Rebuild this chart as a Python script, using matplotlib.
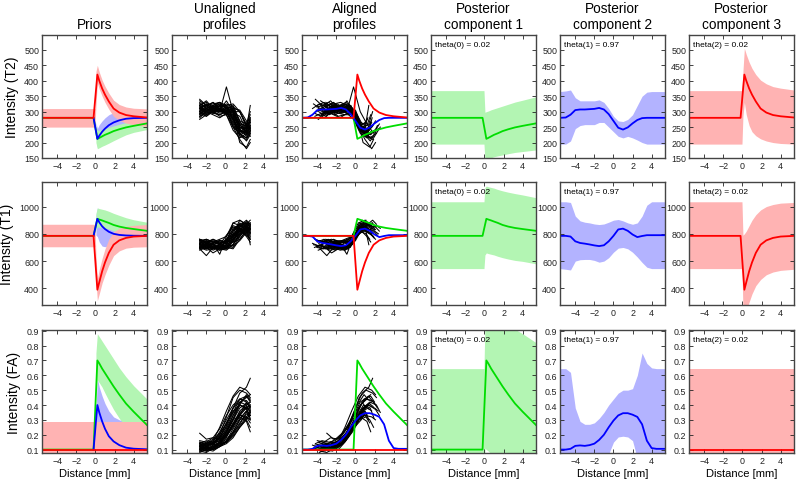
import matplotlib
matplotlib.use('Agg')
import matplotlib.pyplot as plt

plt.rcParams['font.family'] = ['Liberation Sans', 'DejaVu Sans']

RED = '#ff0000'
GREEN = '#00dd00'
BLUE = '#0000ff'
RED_F = '#ffb3b3'
GREEN_F = '#b3f5b3'
BLUE_F = '#b3b3ff'

titles = ['Priors', 'Unaligned\nprofiles', 'Aligned\nprofiles',
          'Posterior\ncomponent 1', 'Posterior\ncomponent 2', 'Posterior\ncomponent 3']
ylabels = ['Intensity (T2)', 'Intensity (T1)', 'Intensity (FA)']
thetas = ['theta(0) = 0.02', 'theta(1) = 0.97', 'theta(2) = 0.02']
ylims = [(150, 548), (278, 1180), (0.077, 0.905)]
yticks = [[150, 200, 250, 300, 350, 400, 450, 500],
          [400, 600, 800, 1000],
          [0.1, 0.2, 0.3, 0.4, 0.5, 0.6, 0.7, 0.8, 0.9]]
xticks = [-4, -2, 0, 2, 4]

# x grids of the component curves
x_line = [-5.6, -0.2, 0.2, 0.4, 0.7, 1.0, 1.4, 1.9, 2.5, 3.2, 4.0, 5.4]
x_band = [-5.6, -0.05, 0.05, 0.2, 0.4, 0.7, 1.0, 1.4, 1.9, 2.5, 3.2, 4.0, 5.4]
x_prior = [-0.2, 0.2, 0.4, 0.7, 1.0, 1.4, 1.9, 2.5, 3.2, 4.0, 5.4]
x_prior_band = [0.05, 0.2, 0.4, 0.7, 1.0, 1.4, 1.9, 2.5, 3.2, 4.0, 5.4]
x_c2 = [-5.6, -5.0, -4.5, -4.0, -3.5, -3.0, -2.5, -2.0, -1.5, -1.0, -0.5, 0.0,
        0.5, 1.0, 1.5, 2.0, 2.5, 3.0, 3.5, 4.0, 4.5, 5.4]

# component 1 (green) mean, same in prior and posterior
c1_T2 = [280, 280, 212, 215, 220, 225, 230, 237, 243, 249, 254, 262]
c1_T1 = [785, 785, 910, 905, 898, 890, 880, 865, 853, 843, 835, 822]
c1_FA = [0.1, 0.1, 0.70, 0.68, 0.645, 0.615, 0.575, 0.525, 0.47, 0.41, 0.355, 0.265]
# component 3 (red) mean
c3_T2 = [280, 280, 420, 400, 375, 355, 333, 310, 297, 289, 285, 281]
c3_T1 = [785, 785, 390, 445, 525, 590, 660, 720, 752, 770, 780, 785]
c3_FA = [0.1, 0.1, 0.1, 0.1, 0.1, 0.1, 0.1, 0.1, 0.1, 0.1, 0.1, 0.1]
# prior mean of component 2 (blue)
p2_T2 = [280, 212, 222, 235, 245, 256, 265, 272, 277, 279, 280]
p2_T1 = [785, 910, 885, 855, 835, 815, 800, 792, 788, 786, 785]
p2_FA = [0.1, 0.40, 0.35, 0.29, 0.24, 0.19, 0.155, 0.13, 0.113, 0.106, 0.102]

# prior bands
pr_red_T2_lo = [250, 250, 320, 393, 373, 350, 330, 308, 285, 272, 263, 258, 252]
pr_red_T2_hi = [310, 310, 430, 450, 428, 402, 382, 360, 337, 323, 315, 311, 309]
pr_red_T1_lo = [705, 705, 460, 310, 360, 440, 500, 570, 640, 675, 695, 702, 705]
pr_red_T1_hi = [870, 870, 640, 470, 540, 620, 690, 760, 815, 840, 855, 862, 868]
pr_red_FA_lo = [-0.085] * 13
pr_red_FA_hi = [0.285] * 13
pr_blue_T2_lo = [225, 185, 192, 203, 213, 226, 240, 252, 262, 267, 270]
pr_blue_T2_hi = [265, 245, 258, 270, 280, 290, 297, 300, 300, 297, 294]
pr_blue_T1_lo = [790, 780, 740, 710, 705, 715, 735, 755, 768, 775, 780]
pr_blue_T1_hi = [930, 990, 970, 950, 930, 905, 875, 845, 825, 812, 800]
pr_blue_FA_lo = [0.08, 0.22, 0.18, 0.12, 0.07, 0.03, 0.0, -0.02, -0.05, -0.07, -0.085]
pr_blue_FA_hi = [0.35, 0.58, 0.52, 0.46, 0.41, 0.36, 0.32, 0.30, 0.29, 0.285, 0.285]
pr_green_T2_lo = [200, 180, 183, 188, 192, 198, 206, 215, 225, 233, 242]
pr_green_T2_hi = [250, 240, 240, 242, 245, 249, 254, 259, 265, 271, 280]
pr_green_T1_lo = [830, 850, 848, 846, 843, 835, 822, 810, 800, 795, 790]
pr_green_T1_hi = [950, 990, 985, 980, 975, 965, 950, 935, 918, 903, 885]
pr_green_FA_lo = [0.45, 0.57, 0.55, 0.52, 0.48, 0.43, 0.37, 0.31, 0.25, 0.19, 0.09]
pr_green_FA_hi = [0.75, 0.88, 0.86, 0.83, 0.80, 0.76, 0.71, 0.65, 0.59, 0.53, 0.44]

# posterior component 1 bands
c1_T2_lo = [195, 195, 143, 145, 148, 151, 154, 157, 160, 164, 168, 171, 176]
c1_T2_hi = [368, 368, 298, 300, 302, 306, 309, 313, 318, 324, 331, 337, 348]
c1_T1_lo = [545, 545, 645, 660, 655, 650, 645, 635, 625, 615, 605, 598, 580]
c1_T1_hi = [1035, 1035, 1140, 1150, 1145, 1140, 1135, 1125, 1115, 1105, 1095, 1085, 1065]
c1_FA_lo = [-0.445, -0.445, 0.11, 0.10, 0.09, 0.07, 0.05, 0.02, -0.02, -0.06, -0.1, -0.14, -0.29]
c1_FA_hi = [0.645, 0.645, 0.95, 1.0, 0.99, 0.98, 0.97, 0.96, 0.95, 0.93, 0.91, 0.88, 0.82]

# posterior component 3 bands
c3_T2_lo = [195, 195, 285, 330, 290, 255, 235, 222, 212, 205, 200, 197, 195]
c3_T2_hi = [368, 368, 430, 505, 485, 460, 440, 420, 402, 390, 381, 376, 370]
c3_T1_lo = [545, 545, 250, 180, 240, 300, 360, 420, 465, 500, 520, 532, 540]
c3_T1_hi = [1035, 1035, 790, 800, 820, 860, 900, 940, 975, 1000, 1015, 1025, 1030]
c3_FA_lo = [-0.445] * 13
c3_FA_hi = [0.645] * 13

# posterior component 2 mean and band
c2_T2 = [280, 281, 290, 305, 307, 307, 308, 309, 312, 307, 292, 270,
         248, 242, 249, 262, 273, 279, 280, 280, 280, 280]
c2_T2_lo = [195, 195, 205, 245, 255, 258, 258, 258, 265, 265, 250, 235,
            220, 215, 220, 215, 208, 200, 195, 195, 195, 195]
c2_T2_hi = [365, 367, 370, 345, 335, 335, 335, 335, 338, 330, 310, 285,
            270, 268, 275, 290, 320, 350, 363, 365, 365, 365]
c2_T1 = [785, 785, 780, 745, 733, 728, 722, 715, 710, 716, 745, 785,
         832, 838, 822, 795, 776, 784, 790, 790, 790, 790]
c2_T1_lo = [545, 540, 535, 600, 610, 612, 612, 605, 592, 600, 625, 665,
            695, 700, 690, 665, 630, 590, 555, 545, 545, 545]
c2_T1_hi = [1035, 1035, 1030, 930, 895, 885, 880, 872, 868, 872, 885, 900,
            905, 895, 880, 870, 880, 930, 1010, 1035, 1035, 1035]
c2_FA = [0.10, 0.10, 0.105, 0.125, 0.128, 0.125, 0.13, 0.14, 0.165, 0.2, 0.25, 0.295,
         0.33, 0.345, 0.345, 0.335, 0.32, 0.27, 0.16, 0.11, 0.105, 0.105]
c2_FA_lo = [-0.44, -0.44, -0.4, -0.13, -0.03, -0.02, -0.01, 0.0, 0.02, 0.04, 0.07, 0.15,
            0.185, 0.19, 0.185, 0.16, 0.04, -0.2, -0.36, -0.43, -0.44, -0.44]
c2_FA_hi = [0.645, 0.645, 0.62, 0.38, 0.29, 0.27, 0.27, 0.28, 0.31, 0.35, 0.4, 0.44,
            0.48, 0.5, 0.5, 0.51, 0.6, 0.75, 0.68, 0.65, 0.645, 0.645]

# measured profiles (unaligned) and their alignment shifts
x_prof = [-2.7, -2.0, -1.3, -0.6, 0.1, 0.8, 1.5, 2.2, 2.6]
shifts = [0.0, -0.2, -0.4, -0.5, -0.6, -0.7, -0.8, -0.9, -1.0, -1.1,
          -1.2, -1.3, -1.4, -1.5, -1.6, -1.8, -0.3, -1.0, -0.5, -1.2,
          -0.1, -0.45, -0.75, -0.95, -1.15, -1.35, -1.55, -1.7, -0.65, -0.85]
prof_T2 = [
    [310, 320, 300, 305, 290, 240, 215, 230, 250],
    [295, 305, 315, 300, 300, 255, 225, 235, 245],
    [330, 310, 320, 330, 310, 270, 220, 210, 230],
    [280, 300, 295, 290, 300, 265, 235, 250, 270],
    [320, 335, 310, 315, 320, 275, 240, 225, 240],
    [300, 290, 305, 300, 310, 290, 200, 185, 210],
    [315, 300, 320, 310, 305, 285, 245, 260, 300],
    [290, 310, 300, 320, 315, 300, 250, 240, 265],
    [325, 315, 330, 305, 335, 300, 260, 255, 290],
    [305, 295, 300, 310, 300, 300, 240, 230, 250],
    [275, 290, 300, 285, 290, 290, 250, 235, 220],
    [320, 330, 315, 325, 310, 320, 270, 260, 280],
    [300, 310, 295, 305, 300, 310, 270, 230, 245],
    [340, 320, 330, 315, 320, 325, 300, 260, 265],
    [295, 285, 300, 310, 295, 300, 300, 250, 240],
    [310, 325, 305, 320, 315, 310, 305, 270, 240],
    [300, 315, 305, 300, 380, 300, 260, 230, 255],
    [285, 300, 290, 280, 295, 275, 230, 215, 235],
    [315, 305, 310, 320, 290, 250, 210, 180, 200],
    [310, 300, 320, 305, 310, 305, 255, 245, 320],
    [305, 325, 310, 300, 305, 250, 230, 240, 260],
    [320, 300, 315, 325, 300, 260, 225, 215, 235],
    [290, 305, 295, 310, 300, 280, 235, 240, 255],
    [335, 320, 325, 330, 320, 305, 255, 245, 270],
    [300, 285, 305, 295, 300, 305, 245, 220, 240],
    [315, 320, 305, 310, 325, 315, 265, 250, 275],
    [285, 295, 300, 290, 300, 295, 285, 240, 230],
    [325, 310, 320, 330, 310, 315, 300, 255, 250],
    [295, 310, 300, 305, 315, 280, 230, 205, 225],
    [310, 295, 315, 300, 310, 295, 240, 235, 280],
]
prof_T1 = [
    [720, 740, 700, 720, 790, 850, 830, 860, 840],
    [700, 730, 720, 690, 760, 830, 870, 820, 800],
    [760, 740, 750, 730, 740, 880, 860, 900, 870],
    [690, 710, 700, 680, 720, 800, 820, 790, 760],
    [740, 720, 730, 750, 740, 820, 880, 850, 830],
    [710, 690, 700, 720, 700, 780, 840, 810, 780],
    [730, 750, 740, 720, 760, 800, 900, 870, 880],
    [700, 720, 680, 700, 690, 760, 820, 850, 800],
    [750, 730, 760, 740, 730, 790, 850, 880, 860],
    [720, 700, 710, 690, 700, 740, 820, 800, 760],
    [680, 700, 660, 690, 680, 720, 800, 830, 810],
    [740, 760, 740, 730, 750, 770, 850, 890, 870],
    [710, 690, 720, 700, 710, 700, 780, 840, 820],
    [760, 740, 730, 750, 740, 760, 800, 870, 900],
    [700, 720, 690, 710, 700, 690, 760, 830, 850],
    [730, 710, 740, 720, 730, 740, 760, 820, 860],
    [720, 700, 730, 650, 780, 860, 840, 820, 790],
    [690, 640, 700, 680, 690, 750, 830, 780, 740],
    [750, 760, 740, 760, 780, 880, 900, 860, 830],
    [710, 730, 700, 720, 710, 720, 810, 850, 720],
    [730, 710, 720, 700, 750, 840, 860, 850, 820],
    [690, 720, 700, 710, 720, 820, 850, 880, 850],
    [750, 730, 720, 740, 730, 790, 860, 830, 810],
    [710, 700, 690, 720, 710, 760, 840, 870, 830],
    [730, 750, 720, 730, 740, 750, 830, 860, 880],
    [700, 690, 710, 700, 690, 720, 790, 850, 840],
    [760, 740, 760, 730, 750, 740, 780, 850, 870],
    [720, 710, 700, 710, 720, 710, 750, 810, 840],
    [700, 680, 690, 700, 700, 780, 830, 800, 770],
    [740, 720, 730, 750, 740, 780, 870, 880, 850],
]
prof_FA = [
    [0.10, 0.12, 0.15, 0.22, 0.30, 0.38, 0.42, 0.40, 0.35],
    [0.12, 0.10, 0.13, 0.18, 0.28, 0.35, 0.40, 0.38, 0.36],
    [0.14, 0.13, 0.16, 0.20, 0.32, 0.45, 0.50, 0.48, 0.45],
    [0.09, 0.11, 0.10, 0.15, 0.22, 0.30, 0.33, 0.32, 0.30],
    [0.13, 0.15, 0.14, 0.19, 0.25, 0.35, 0.44, 0.46, 0.42],
    [0.11, 0.09, 0.12, 0.14, 0.20, 0.28, 0.34, 0.30, 0.25],
    [0.15, 0.14, 0.17, 0.21, 0.27, 0.38, 0.48, 0.52, 0.58],
    [0.10, 0.12, 0.11, 0.13, 0.18, 0.27, 0.35, 0.38, 0.36],
    [0.13, 0.11, 0.14, 0.16, 0.22, 0.33, 0.42, 0.45, 0.47],
    [0.08, 0.10, 0.09, 0.12, 0.16, 0.22, 0.30, 0.32, 0.28],
    [0.12, 0.14, 0.13, 0.15, 0.19, 0.25, 0.33, 0.38, 0.40],
    [0.16, 0.15, 0.18, 0.17, 0.22, 0.30, 0.40, 0.47, 0.44],
    [0.10, 0.09, 0.11, 0.13, 0.15, 0.21, 0.28, 0.34, 0.33],
    [0.14, 0.16, 0.15, 0.16, 0.20, 0.26, 0.33, 0.42, 0.38],
    [0.11, 0.12, 0.10, 0.12, 0.14, 0.18, 0.25, 0.30, 0.35],
    [0.13, 0.11, 0.12, 0.14, 0.15, 0.20, 0.26, 0.32, 0.36],
    [0.21, 0.17, 0.18, 0.24, 0.33, 0.40, 0.44, 0.42, 0.38],
    [0.09, 0.08, 0.11, 0.15, 0.20, 0.27, 0.32, 0.29, 0.22],
    [0.12, 0.14, 0.16, 0.25, 0.36, 0.46, 0.52, 0.50, 0.47],
    [0.10, 0.12, 0.10, 0.13, 0.16, 0.24, 0.31, 0.36, 0.30],
    [0.11, 0.13, 0.14, 0.20, 0.28, 0.36, 0.40, 0.37, 0.33],
    [0.14, 0.12, 0.15, 0.18, 0.26, 0.38, 0.44, 0.43, 0.40],
    [0.09, 0.11, 0.12, 0.15, 0.21, 0.30, 0.38, 0.41, 0.39],
    [0.12, 0.10, 0.12, 0.14, 0.19, 0.27, 0.36, 0.40, 0.42],
    [0.15, 0.13, 0.14, 0.16, 0.20, 0.26, 0.34, 0.39, 0.37],
    [0.10, 0.11, 0.10, 0.12, 0.15, 0.22, 0.30, 0.36, 0.34],
    [0.13, 0.14, 0.13, 0.14, 0.17, 0.21, 0.27, 0.35, 0.39],
    [0.11, 0.10, 0.12, 0.13, 0.15, 0.19, 0.25, 0.31, 0.33],
    [0.12, 0.13, 0.15, 0.17, 0.24, 0.33, 0.40, 0.38, 0.31],
    [0.14, 0.12, 0.14, 0.18, 0.23, 0.31, 0.41, 0.46, 0.43],
]

rows = [
    dict(c1=c1_T2, c3=c3_T2, p2=p2_T2,
         pr_red=(pr_red_T2_lo, pr_red_T2_hi), pr_blue=(pr_blue_T2_lo, pr_blue_T2_hi),
         pr_green=(pr_green_T2_lo, pr_green_T2_hi),
         c1b=(c1_T2_lo, c1_T2_hi), c3b=(c3_T2_lo, c3_T2_hi),
         c2=c2_T2, c2b=(c2_T2_lo, c2_T2_hi), prof=prof_T2),
    dict(c1=c1_T1, c3=c3_T1, p2=p2_T1,
         pr_red=(pr_red_T1_lo, pr_red_T1_hi), pr_blue=(pr_blue_T1_lo, pr_blue_T1_hi),
         pr_green=(pr_green_T1_lo, pr_green_T1_hi),
         c1b=(c1_T1_lo, c1_T1_hi), c3b=(c3_T1_lo, c3_T1_hi),
         c2=c2_T1, c2b=(c2_T1_lo, c2_T1_hi), prof=prof_T1),
    dict(c1=c1_FA, c3=c3_FA, p2=p2_FA,
         pr_red=(pr_red_FA_lo, pr_red_FA_hi), pr_blue=(pr_blue_FA_lo, pr_blue_FA_hi),
         pr_green=(pr_green_FA_lo, pr_green_FA_hi),
         c1b=(c1_FA_lo, c1_FA_hi), c3b=(c3_FA_lo, c3_FA_hi),
         c2=c2_FA, c2b=(c2_FA_lo, c2_FA_hi), prof=prof_FA),
]

W, H = 796, 481
fig = plt.figure(figsize=(W / 100, H / 100), dpi=100)
lefts = [42, 172, 302, 431, 560, 689]
tops = [36, 183, 331]
aw, ah = 105, 123
LW = 1.3

for r, d in enumerate(rows):
    for c in range(6):
        ax = fig.add_axes([lefts[c] / W, 1 - (tops[r] + ah) / H, aw / W, ah / H])
        if c == 0:
            ax.fill_between(x_prior_band, *d['pr_blue'], color=BLUE_F, lw=0)
            ax.fill_between(x_prior_band, *d['pr_green'], color=GREEN_F, lw=0)
            ax.fill_between(x_band, *d['pr_red'], color=RED_F, lw=0)
            ax.plot(x_line, d['c1'], color=GREEN, lw=LW)
            ax.plot(x_prior, d['p2'], color=BLUE, lw=LW)
            ax.plot(x_line, d['c3'], color=RED, lw=LW)
        elif c == 1:
            for p in d['prof']:
                ax.plot(x_prof, p, color='black', lw=0.75)
        elif c == 2:
            for p, s in zip(d['prof'], shifts):
                ax.plot([x + s for x in x_prof], p, color='black', lw=0.75)
            ax.plot(x_line, d['c1'], color=GREEN, lw=LW)
            ax.plot(x_c2, d['c2'], color=BLUE, lw=LW)
            ax.plot(x_line, d['c3'], color=RED, lw=LW)
        elif c == 3:
            ax.fill_between(x_band, *d['c1b'], color=GREEN_F, lw=0)
            ax.plot(x_line, d['c1'], color=GREEN, lw=LW)
        elif c == 4:
            ax.fill_between(x_c2, *d['c2b'], color=BLUE_F, lw=0)
            ax.plot(x_c2, d['c2'], color=BLUE, lw=LW)
        else:
            ax.fill_between(x_band, *d['c3b'], color=RED_F, lw=0)
            ax.plot(x_line, d['c3'], color=RED, lw=LW)
        if c >= 3:
            ax.text(0.04, 0.955, thetas[c - 3], transform=ax.transAxes,
                    fontsize=6, va='top', ha='left')

        ax.set_xlim(-5.6, 5.4)
        ax.set_ylim(*ylims[r])
        ax.set_xticks(xticks)
        ax.set_yticks(yticks[r])
        if r == 2:
            ax.set_yticklabels(['%.1f' % v for v in yticks[r]])
            ax.set_xlabel('Distance [mm]', fontsize=8, labelpad=2)
        ax.tick_params(direction='in', top=True, right=True, length=3, width=0.6,
                       labelsize=6.4, pad=2, colors='#222222')
        for sp in ax.spines.values():
            sp.set_linewidth(1.0)
            sp.set_color('#444444')
        if r == 0:
            ax.set_title(titles[c], fontsize=9.8, pad=5)
        if c == 0:
            ax.set_ylabel(ylabels[r], fontsize=10, labelpad=4)

fig.savefig('out.png', dpi=100)
